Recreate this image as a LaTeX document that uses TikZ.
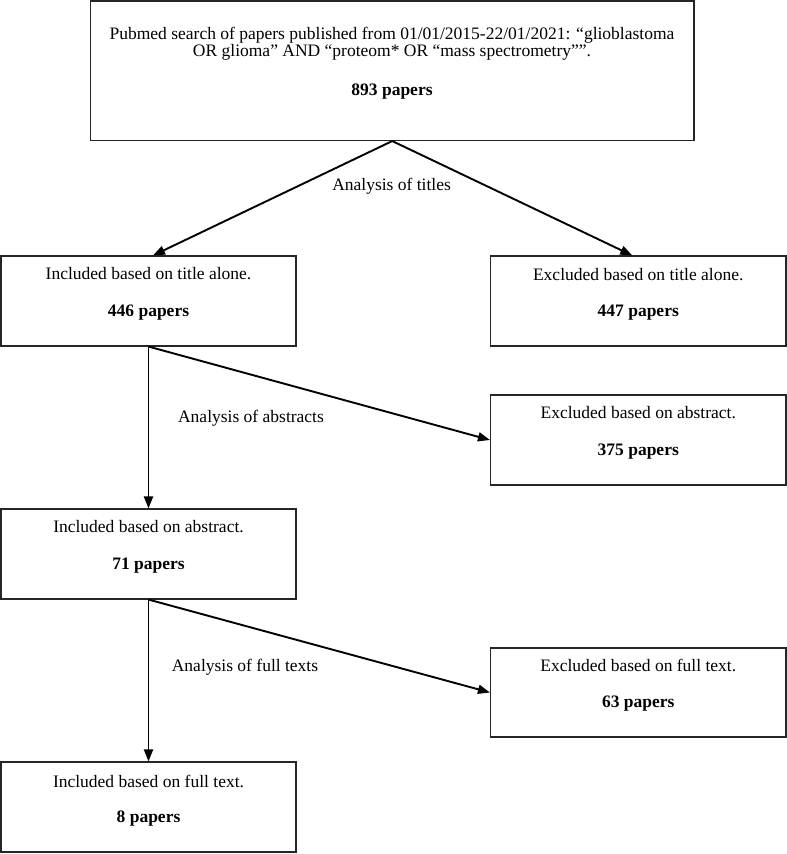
\documentclass[tikz,border=0pt]{standalone}
\usepackage{fontspec}
\setmainfont{Liberation Serif}
\usetikzlibrary{arrows.meta,calc}
\begin{document}
\begin{tikzpicture}[x=1pt,y=-1pt,
  box/.style={draw=black!85,line width=1.1pt,inner sep=0pt},
  txt/.style={inner sep=0pt,font=\fontsize{17.5}{17.5}\selectfont},
  num/.style={inner sep=0pt,font=\fontsize{17.5}{17.5}\selectfont\bfseries},
  arr/.style={line width=1.9pt,-{Triangle[length=12pt,width=9pt]}}]
\useasboundingbox (0,0) rectangle (787,854);
% boxes
\node[box,minimum width=603.5pt,minimum height=139.5pt] (top) at (392.25,70.75) {};
\node[box,minimum width=295pt,minimum height=90pt] (inc1) at (148.5,301) {};
\node[box,minimum width=295.5pt,minimum height=90pt] (exc1) at (638.25,301) {};
\node[box,minimum width=295.5pt,minimum height=90pt] (exc2) at (638.25,440) {};
\node[box,minimum width=295pt,minimum height=90pt] (inc2) at (148.5,554) {};
\node[box,minimum width=295.5pt,minimum height=89pt] (exc3) at (638.25,692.5) {};
\node[box,minimum width=295pt,minimum height=90pt] (inc3) at (148.5,807) {};
% texts
\node[txt,align=center,anchor=base] (t1) at (392,56.5) {Pubmed search of papers published from 01/01/2015-22/01/2021: “glioblastoma\\[0pt] OR glioma” AND “proteom* OR “mass spectrometry””.};
\node[num] (n1) at (392,92) {893 papers};
\node[txt] (t2) at (148.5,274) {Included based on title alone.};
\node[num] (n2) at (148.5,313) {446 papers};
\node[txt] (t3) at (638.25,275) {Excluded based on title alone.};
\node[num] (n3) at (638.25,313) {447 papers};
\node[txt] (t4) at (638.25,412.7) {Excluded based on abstract.};
\node[num] (n4) at (638.25,451.7) {375 papers};
\node[txt] (t5) at (148.5,527) {Included based on abstract.};
\node[num] (n5) at (148.5,565.7) {71 papers};
\node[txt] (t6) at (638.25,665.7) {Excluded based on full text.};
\node[num] (n6) at (638.25,704) {63 papers};
\node[txt] (t7) at (148.5,781) {Included based on full text.};
\node[num] (n7) at (148.5,819) {8 papers};
% labels
\node[txt] (l1) at (391.6,186.7) {Analysis of titles};
\node[txt] (l2) at (251,418.3) {Analysis of abstracts};
\node[txt] (l3) at (245,667.7) {Analysis of full texts};
% arrows
\coordinate (a1) at ($(inc1.north)+(4.5,0)$);
\coordinate (a2) at ($(exc1.north)+(-6,0)$);
\draw[arr] (top.south) -- (a1);
\draw[arr] (top.south) -- (a2);
\draw[arr] (inc1.south) -- (inc2.north);
\draw[arr] (inc1.south) -- (exc2.west);
\draw[arr] (inc2.south) -- (inc3.north);
\draw[arr] (inc2.south) -- (exc3.west);
\end{tikzpicture}
\end{document}
